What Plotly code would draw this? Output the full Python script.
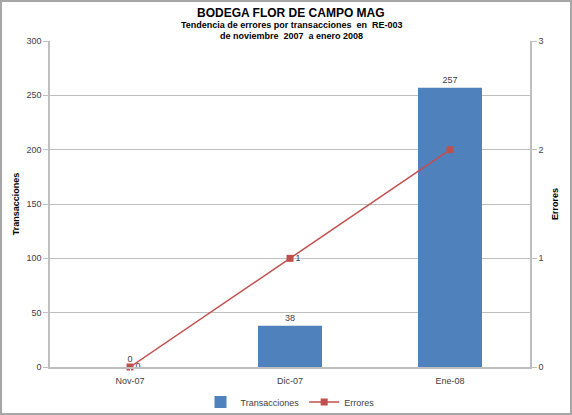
import plotly.graph_objects as go

meses = ["Nov-07", "Dic-07", "Ene-08"]
transacciones = [0, 38, 257]
errores = [0, 1, 2]
etiquetas_errores = ["0", "1", ""]

W, H = 572, 415
ML, MR, MT, MB = 50, 42, 41, 48
PW, PH = W - ML - MR, H - MT - MB

fig = go.Figure()

fig.add_trace(go.Bar(
    x=meses,
    y=transacciones,
    name="Transacciones",
    marker=dict(color="#4f81bd", line=dict(width=0)),
    text=[str(v) for v in transacciones],
    textposition="outside",
    textfont=dict(size=9, color="#404040"),
    cliponaxis=False,
    width=0.4,
))

fig.add_trace(go.Scatter(
    x=meses,
    y=errores,
    name="Errores",
    yaxis="y2",
    mode="lines+markers+text",
    line=dict(color="#c0504d", width=1.5),
    marker=dict(symbol="square", size=7, color="#c0504d"),
    text=etiquetas_errores,
    textposition="middle right",
    textfont=dict(size=9, color="#404040"),
    cliponaxis=False,
))

fig.update_layout(
    width=W,
    height=H,
    margin=dict(l=ML, r=MR, t=MT, b=MB, autoexpand=False),
    paper_bgcolor="white",
    plot_bgcolor="white",
    font=dict(family="Liberation Sans, Arial", size=10, color="#404040"),
    xaxis=dict(
        showgrid=False,
        showline=True, linecolor="#bfbfbf", linewidth=1.5,
        ticks="outside", ticklen=4, tickcolor="white",
        tickfont=dict(size=9, color="#404040"),
    ),
    yaxis=dict(
        title=dict(text="<b>Transacciones</b>", font=dict(size=9, color="black"), standoff=5),
        range=[0, 300], dtick=50,
        showgrid=True, gridcolor="#bfbfbf", gridwidth=1,
        showline=True, linecolor="#bfbfbf", linewidth=1.5,
        ticks="outside", ticklen=5, tickcolor="#bfbfbf",
        tickfont=dict(size=9, color="#404040"),
        zeroline=False,
    ),
    yaxis2=dict(
        title=dict(text="<b>Errores</b>", font=dict(size=9, color="black"), standoff=9),
        range=[0, 3], dtick=1,
        overlaying="y", side="right",
        showgrid=False,
        showline=True, linecolor="#bfbfbf", linewidth=1.5,
        ticks="outside", ticklen=5, tickcolor="#bfbfbf",
        tickfont=dict(size=9, color="#404040"),
        zeroline=False,
    ),
    legend=dict(
        orientation="h", x=0.5, xanchor="center",
        y=-(402 - 367) / PH, yanchor="middle",
        font=dict(size=9, color="#404040"),
        bgcolor="rgba(0,0,0,0)",
    ),
    bargap=0.6,
    showlegend=True,
)

# titulo en tres lineas
titulos = [
    ("<b>BODEGA FLOR DE CAMPO MAG</b>", 12, 13),
    ("<b>Tendencia de errores por transacciones  en  RE-003</b>", 9, 25),
    ("<b>de noviembre  2007  a enero 2008</b>", 9, 36),
]
for texto, tam, ypix in titulos:
    fig.add_annotation(
        text=texto, xref="paper", yref="paper",
        x=(291 - ML) / PW, y=1 + (MT - ypix) / PH,
        xanchor="center", yanchor="middle", showarrow=False,
        font=dict(size=tam, color="black", family="Liberation Sans, Arial"),
    )

# marco exterior del grafico
fig.add_shape(type="rect", xref="paper", yref="paper",
              x0=-(ML - 1) / PW, x1=1 + (MR - 1) / PW,
              y0=-(MB - 1) / PH, y1=1 + (MT - 1) / PH,
              line=dict(color="#a6a6a6", width=2), layer="below")

fig.write_html("out.html",
               config={"displayModeBar": False},
               post_script="document.body.style.margin='0';document.body.style.overflow='hidden';")
